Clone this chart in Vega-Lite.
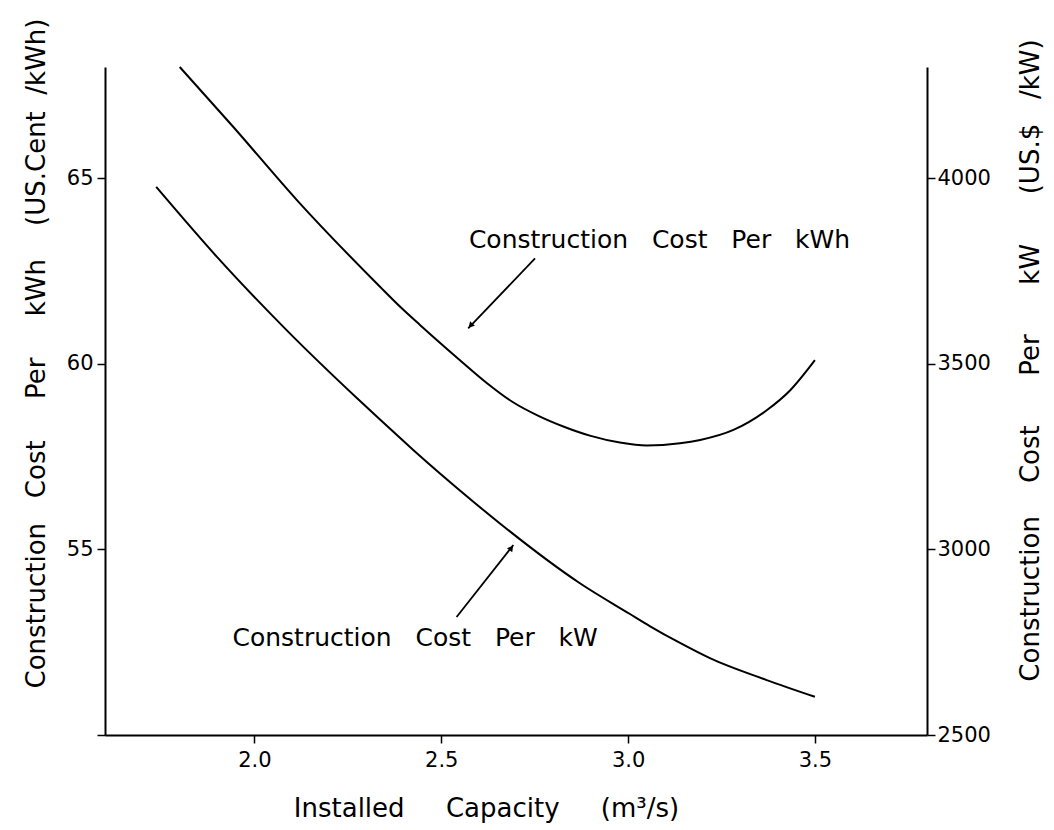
{
  "$schema": "https://vega.github.io/schema/vega-lite/v6.json",
  "width": 822,
  "height": 668,
  "autosize": "none",
  "padding": {"left": 105, "top": 67, "right": 127, "bottom": 95},
  "background": "white",
  "config": {
    "view": {"stroke": null},
    "font": "DejaVu Sans",
    "axis": {
      "grid": false,
      "domainColor": "black",
      "domainWidth": 2,
      "tickColor": "black",
      "tickWidth": 1.5,
      "tickSize": 8,
      "labelColor": "black",
      "labelFontSize": 21,
      "labelFont": "DejaVu Sans",
      "titleColor": "black",
      "titleFontSize": 26,
      "titleFontWeight": "normal",
      "titleFont": "DejaVu Sans"
    }
  },
  "datasets": {
    "kwh": [
      {"capacity": 1.8, "cost": 68.0},
      {"capacity": 1.943, "cost": 66.39},
      {"capacity": 2.113, "cost": 64.42},
      {"capacity": 2.336, "cost": 62.08},
      {"capacity": 2.39, "cost": 61.54},
      {"capacity": 2.443, "cost": 61.05},
      {"capacity": 2.55, "cost": 60.1},
      {"capacity": 2.62, "cost": 59.5},
      {"capacity": 2.69, "cost": 58.98},
      {"capacity": 2.76, "cost": 58.6},
      {"capacity": 2.83, "cost": 58.3},
      {"capacity": 2.9, "cost": 58.06},
      {"capacity": 2.978, "cost": 57.88},
      {"capacity": 3.05, "cost": 57.8},
      {"capacity": 3.139, "cost": 57.86},
      {"capacity": 3.193, "cost": 57.95},
      {"capacity": 3.282, "cost": 58.22},
      {"capacity": 3.371, "cost": 58.75},
      {"capacity": 3.434, "cost": 59.29},
      {"capacity": 3.5, "cost": 60.1}
    ],
    "kw": [
      {"capacity": 1.737, "cost": 3977},
      {"capacity": 1.899, "cost": 3789},
      {"capacity": 2.086, "cost": 3591},
      {"capacity": 2.274, "cost": 3408},
      {"capacity": 2.336, "cost": 3350},
      {"capacity": 2.39, "cost": 3300},
      {"capacity": 2.425, "cost": 3268},
      {"capacity": 2.577, "cost": 3136},
      {"capacity": 2.657, "cost": 3070},
      {"capacity": 2.871, "cost": 2909},
      {"capacity": 3.005, "cost": 2826},
      {"capacity": 3.059, "cost": 2793},
      {"capacity": 3.139, "cost": 2748},
      {"capacity": 3.219, "cost": 2707},
      {"capacity": 3.371, "cost": 2648},
      {"capacity": 3.5, "cost": 2603}
    ],
    "notes": [
      {"x": 3.084, "y": 63.34, "label": "Construction\u00a0\u00a0\u00a0Cost\u00a0\u00a0\u00a0Per\u00a0\u00a0\u00a0kWh"},
      {"x": 2.43, "y": 52.61, "label": "Construction\u00a0\u00a0\u00a0Cost\u00a0\u00a0\u00a0Per\u00a0\u00a0\u00a0kW"}
    ],
    "arrows": [
      {"x": 2.751, "y": 62.84, "x2": 2.572, "y2": 60.96},
      {"x": 2.541, "y": 53.18, "x2": 2.693, "y2": 55.12}
    ],
    "headKwh": [{"x": 2.58, "y": 61.05}],
    "headKw": [{"x": 2.686, "y": 55.02}]
  },
  "layer": [
    {
      "layer": [
        {
          "data": {"name": "kwh"},
          "mark": {"type": "line", "color": "black", "strokeWidth": 2, "interpolate": "monotone"},
          "encoding": {
            "x": {
              "field": "capacity", "type": "quantitative",
              "scale": {"domain": [1.6, 3.8], "nice": false, "zero": false},
              "axis": {
                "values": [2.0, 2.5, 3.0, 3.5], "format": ".1f",
                "labelPadding": 6,
                "title": "Installed\u00a0\u00a0\u00a0\u00a0\u00a0Capacity\u00a0\u00a0\u00a0\u00a0\u00a0(m³/s)",
                "titleX": 381, "titleY": 60
              }
            },
            "y": {
              "field": "cost", "type": "quantitative",
              "scale": {"domain": [50, 68], "nice": false, "zero": false},
              "axis": {
                "orient": "left", "values": [50, 55, 60, 65],
                "labelExpr": "datum.value == 50 ? '' : datum.label",
                "labelPadding": 4,
                "title": "Construction\u00a0\u00a0\u00a0Cost\u00a0\u00a0\u00a0\u00a0\u00a0Per\u00a0\u00a0\u00a0\u00a0\u00a0kWh\u00a0\u00a0\u00a0\u00a0(US.Cent\u00a0\u00a0/kWh)",
                "titleX": -56, "titleY": 286
              }
            }
          }
        },
        {
          "data": {"name": "notes"},
          "mark": {"type": "text", "fontSize": 25, "font": "DejaVu Sans", "color": "black", "align": "center", "baseline": "middle"},
          "encoding": {
            "x": {"field": "x", "type": "quantitative"},
            "y": {"field": "y", "type": "quantitative"},
            "text": {"field": "label"}
          }
        },
        {
          "data": {"name": "arrows"},
          "mark": {"type": "rule", "color": "black", "strokeWidth": 1.8},
          "encoding": {
            "x": {"field": "x", "type": "quantitative"},
            "y": {"field": "y", "type": "quantitative"},
            "x2": {"field": "x2"},
            "y2": {"field": "y2"}
          }
        },
        {
          "data": {"name": "headKwh"},
          "mark": {"type": "point", "shape": "triangle", "angle": 224, "filled": true, "color": "black", "size": 45, "opacity": 1},
          "encoding": {
            "x": {"field": "x", "type": "quantitative"},
            "y": {"field": "y", "type": "quantitative"}
          }
        },
        {
          "data": {"name": "headKw"},
          "mark": {"type": "point", "shape": "triangle", "angle": 38, "filled": true, "color": "black", "size": 45, "opacity": 1},
          "encoding": {
            "x": {"field": "x", "type": "quantitative"},
            "y": {"field": "y", "type": "quantitative"}
          }
        }
      ]
    },
    {
      "data": {"name": "kw"},
      "mark": {"type": "line", "color": "black", "strokeWidth": 2, "interpolate": "monotone"},
      "encoding": {
        "x": {"field": "capacity", "type": "quantitative"},
        "y": {
          "field": "cost", "type": "quantitative",
          "scale": {"domain": [2500, 4300], "nice": false, "zero": false},
          "axis": {
            "orient": "right", "values": [2500, 3000, 3500, 4000],
            "format": "d",
            "labelPadding": 2,
            "title": "Construction\u00a0\u00a0\u00a0\u00a0Cost\u00a0\u00a0\u00a0\u00a0\u00a0\u00a0Per\u00a0\u00a0\u00a0\u00a0\u00a0\u00a0kW\u00a0\u00a0\u00a0\u00a0\u00a0\u00a0(US.$\u00a0\u00a0\u00a0/kW)",
            "titleAngle": 270,
            "titleX": 116, "titleY": 293
          }
        }
      }
    }
  ],
  "resolve": {"scale": {"y": "independent"}, "axis": {"y": "independent"}}
}
